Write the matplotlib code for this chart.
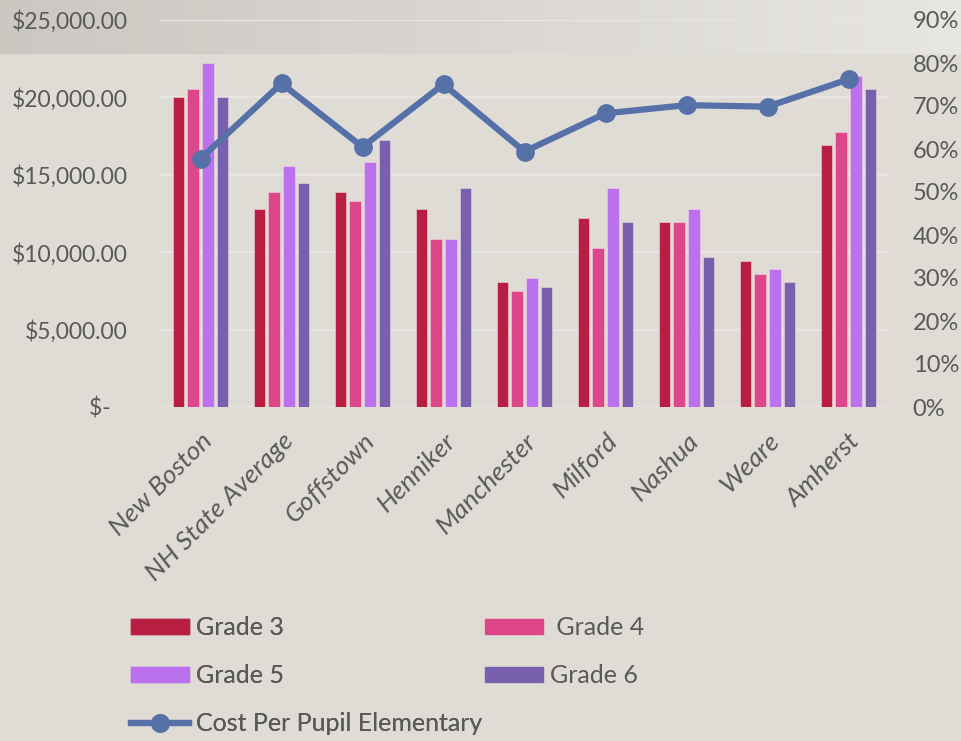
import matplotlib
matplotlib.use("Agg")
import matplotlib.pyplot as plt
import numpy as np
from matplotlib.lines import Line2D
from matplotlib.patches import Patch
from matplotlib.colors import LinearSegmentedColormap
from matplotlib.ticker import FuncFormatter, MultipleLocator, PercentFormatter

plt.rcParams['font.family'] = ['Lato', 'DejaVu Sans']

towns = ["New Boston", "NH State Average", "Goffstown", "Henniker", "Manchester",
         "Milford", "Nashua", "Weare", "Amherst"]

# Share of students proficient, by grade
grade3 = [0.72, 0.46, 0.50, 0.46, 0.29, 0.44, 0.43, 0.34, 0.61]
grade4 = [0.74, 0.50, 0.48, 0.39, 0.27, 0.37, 0.43, 0.31, 0.64]
grade5 = [0.80, 0.56, 0.57, 0.39, 0.30, 0.51, 0.46, 0.32, 0.77]
grade6 = [0.72, 0.52, 0.62, 0.51, 0.28, 0.43, 0.35, 0.29, 0.74]

# Elementary cost per pupil, in dollars
cost_per_pupil = [16040, 20900, 16800, 20850, 16500, 18970, 19500, 19400, 21170]

grade_names = ["Grade 3", " Grade 4", "Grade 5", "Grade 6"]
grade_colors = ["#B81D42", "#DE468A", "#BB71ED", "#7860AF"]
line_color = "#5670A8"
text_color = "#595959"
bg = "#DFDCD6"
grid_color = "#E7E5E1"

fig = plt.figure(figsize=(9.61, 7.41), dpi=100)
fig.patch.set_facecolor(bg)

# shaded band across the top of the figure
band = fig.add_axes([0, 1 - 54 / 741, 1, 54 / 741], zorder=-10)
grad = np.linspace(0, 1, 256).reshape(1, -1)
cmap = LinearSegmentedColormap.from_list("band", ["#CBC8C2", "#DAD7D2", "#E8E6E2"])
band.imshow(grad, aspect="auto", cmap=cmap, extent=[0, 1, 0, 1])
band.set_axis_off()

left, right = 160 / 961, 889 / 961
bottom, top = (741 - 407) / 741, (741 - 20) / 741
rect = [left, bottom, right - left, top - bottom]


def dollars(v, pos):
    # accounting style: zero shown as a dash, padded like the other labels
    return "$-   " if v == 0 else f"${v:,.2f}"


# base axis: dollar scale, gridlines and left tick labels
ax = fig.add_axes(rect)
ax.patch.set_visible(False)
ax.set_ylim(0, 25000)
ax.set_xlim(-0.5, len(towns) - 0.5)
ax.yaxis.set_major_locator(MultipleLocator(5000))
ax.yaxis.set_major_formatter(FuncFormatter(dollars))
ax.grid(axis="y", color=grid_color, linewidth=1.6)
ax.set_axisbelow(True)
for s in ax.spines.values():
    s.set_visible(False)
ax.tick_params(axis="y", length=0, colors=text_color, labelsize=16.5, pad=23)
x = np.arange(len(towns))
ax.set_xticks(x)
ax.set_xticklabels(towns, rotation=45, ha="right", rotation_mode="anchor",
                   fontstyle="italic", fontsize=19)
ax.tick_params(axis="x", length=0, colors=text_color, pad=16)

# bars on the percentage scale
axb = ax.twinx()
axb.patch.set_visible(False)
axb.set_ylim(0, 0.9)
axb.yaxis.set_major_locator(MultipleLocator(0.1))
axb.yaxis.set_major_formatter(PercentFormatter(1.0, decimals=0))
axb.tick_params(axis="y", length=0, colors=text_color, labelsize=17, pad=17)
for s in axb.spines.values():
    s.set_visible(False)

width = 0.145
step = 0.181
for i, (vals, col) in enumerate(zip([grade3, grade4, grade5, grade6], grade_colors)):
    axb.bar(x + (i - 1.5) * step, vals, width=width, color=col,
            edgecolor="#F2D5DE", linewidth=0.4)

# cost line on the dollar scale, drawn over the bars
axl = ax.twinx()
axl.patch.set_visible(False)
axl.set_ylim(0, 25000)
axl.set_axis_off()
axl.plot(x, cost_per_pupil, color=line_color, linewidth=4.5, marker="o",
         markersize=12.5, solid_capstyle="round", solid_joinstyle="round")

# legend, laid out as two columns
leg_kw = dict(loc="upper left", frameon=False, fontsize=18, labelcolor=text_color,
              handlelength=2.3, handleheight=0.55, handletextpad=0.3,
              labelspacing=1.0, borderpad=0, borderaxespad=0)
col1 = fig.legend([Patch(color=grade_colors[0]), Patch(color=grade_colors[2]),
                   Line2D([0], [0], color=line_color, linewidth=4.5, marker="o",
                          markersize=12.5)],
                  [grade_names[0], grade_names[2], "Cost Per Pupil Elementary"],
                  bbox_to_anchor=(131 / 961, 1 - 616 / 741), **leg_kw)
fig.add_artist(col1)
fig.legend([Patch(color=grade_colors[1]), Patch(color=grade_colors[3])],
           [grade_names[1], grade_names[3]],
           bbox_to_anchor=(485 / 961, 1 - 616 / 741), **leg_kw)

fig.savefig("out.png", dpi=100, facecolor=bg)
